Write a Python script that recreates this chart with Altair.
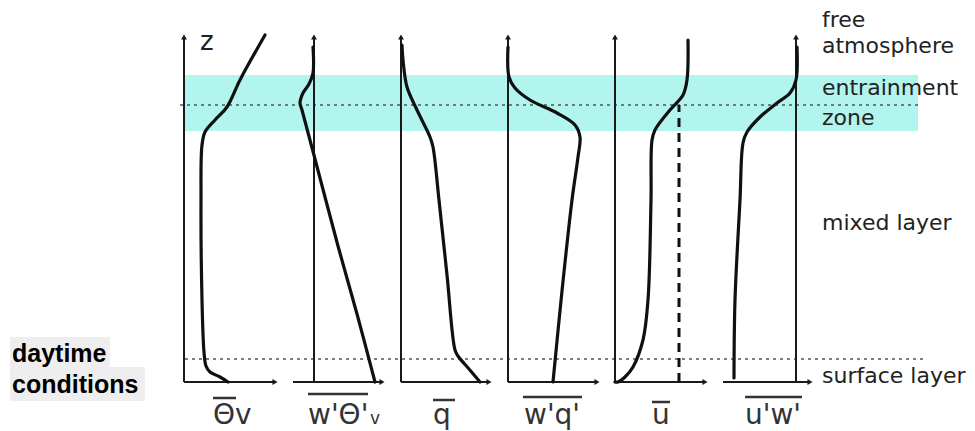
import altair as alt
import pandas as pd

# ---------------- data (diagram units: x across, z = height above surface) ----------------
panel_names = ["theta_v", "w_theta_v", "q", "w_q", "u", "u_w"]
axis_x = [184, 314, 401, 508, 615, 796]          # vertical axis of each panel
haxis_x0 = [184, 293, 401, 508, 615, 723]        # horizontal axis start
haxis_x1 = [278, 385, 492, 600, 708, 813]        # horizontal axis end (arrow)
axis_top = 348

# profile shapes: offset from the panel's vertical axis (dx) and height (z)
theta_dx = [44, 36, 26, 22, 20, 18, 17, 18, 21, 31, 43, 56, 81]
theta_z = [0, 5, 10, 16, 30, 82, 182, 237, 250, 262, 275, 302, 347]

wtheta_dx = [-1, -1, -5, -11, -14, -12, 6, 24, 43, 61]
wtheta_z = [335, 309, 298, 289, 279, 272, 204, 136, 68, 0]

q_dx = [1, 2, 6, 16, 29, 32, 38, 46, 54, 57, 68, 79]
q_z = [337, 322, 295, 272, 245, 235, 182, 107, 32, 26, 13, 0]

wq_dx = [0, 1, 7, 22, 49, 67, 72, 70, 64, 54, 45]
wq_z = [335, 305, 294, 282, 269, 257, 245, 225, 182, 91, 0]

u_dx = [73, 72, 68, 55, 40, 37, 36, 33, 28, 18, 10, 3, 0]
u_z = [342, 302, 287, 272, 252, 242, 182, 82, 42, 15, 5, 0, 0]

uw_dx = [1, 0, -6, -19, -36, -49, -53, -56, -61, -62]
uw_z = [335, 302, 289, 279, 265, 250, 239, 182, 82, 4]

profile_dx = [theta_dx, wtheta_dx, q_dx, wq_dx, u_dx, uw_dx]
profile_z = [theta_z, wtheta_z, q_z, wq_z, u_z, uw_z]

# geostrophic wind (dashed) in the u panel
ug_dx = 64
ug_z = [0, 277]

# layers
ez_bottom, ez_top = 251, 307
band_x = [183, 918]
inversion_z = 277
surface_z = 23
dot_upper_x = [180, 920]
dot_lower_x = [185, 925]

# bottom variable labels
var_text = ["Θv", "w'Θ'", "q", "w'q'", "u", "u'w'"]
var_x = [213, 308, 433, 524, 652, 745]
over_x0 = [213, 308, 433, 523, 652, 745]
over_x1 = [236, 368, 455, 582, 670, 802]
over_z = [-16, -12, -18, -15, -20, -15]
sub_text = ["v"]
sub_x = [370]

# right-hand layer names
layer_text = ["free", "atmosphere", "entrainment", "zone", "mixed layer", "surface layer"]
layer_z = [355, 329, 287, 257, 152, -1]
layer_x = 822

cond_text = ["daytime", "conditions"]
cond_z = [20, -11]

# ---------------- tables ----------------
rows = []
for name, x0, dxs, zs in zip(panel_names, axis_x, profile_dx, profile_z):
    for k, (dx, z) in enumerate(zip(dxs, zs)):
        rows.append({"curve": name, "x": x0 + dx, "z": z, "k": k})
curves = pd.DataFrame(rows)

axes_rows = []
for x0, h0, h1 in zip(axis_x, haxis_x0, haxis_x1):
    axes_rows.append({"x": x0, "x2": x0, "z": 0, "z2": axis_top - 4})
    axes_rows.append({"x": h0, "x2": h1 - 4, "z": 0, "z2": 0})
axes_df = pd.DataFrame(axes_rows)

up_heads = pd.DataFrame({"x": axis_x, "z": [axis_top - 3] * len(axis_x)})
right_heads = pd.DataFrame({"x": [h - 3 for h in haxis_x1], "z": [0] * len(haxis_x1)})

band_df = pd.DataFrame({"x": [band_x[0]], "x2": [band_x[1]], "z": [ez_bottom], "z2": [ez_top]})
dots_df = pd.DataFrame({
    "x": [dot_upper_x[0], dot_lower_x[0]],
    "x2": [dot_upper_x[1], dot_lower_x[1]],
    "z": [inversion_z, surface_z],
})
ug_df = pd.DataFrame({"x": [axis_x[4] + ug_dx] * 2, "z": ug_z, "k": [0, 1]})

over_df = pd.DataFrame({"x": over_x0, "x2": over_x1, "z": over_z})
var_df = pd.DataFrame({"t": var_text, "x": var_x, "z": [-42] * len(var_text)})
sub_df = pd.DataFrame({"t": sub_text, "x": sub_x, "z": [-42]})
layer_df = pd.DataFrame({"t": layer_text, "x": [layer_x] * len(layer_text), "z": layer_z})
z_df = pd.DataFrame({"t": ["z"], "x": [200], "z": [332]})

cond_df = pd.DataFrame({"t": cond_text, "x": [12, 12], "z": cond_z})
cond_bg = pd.DataFrame({"x": [10, 10], "x2": [110, 145], "z": [15, -19], "z2": [45, 15]})

# ---------------- chart ----------------
W, H = 959, 423
xs = alt.Scale(domain=[8, 8 + W], nice=False, zero=False)
zs = alt.Scale(domain=[374 - H, 374], nice=False, zero=False)
X = alt.X("x:Q", scale=xs, axis=None)
X2 = alt.X2("x2:Q")
Y = alt.Y("z:Q", scale=zs, axis=None)
Y2 = alt.Y2("z2:Q")

band = alt.Chart(band_df).mark_rect(color="#b2f5ee").encode(x=X, x2=X2, y=Y, y2=Y2)
dots = alt.Chart(dots_df).mark_rule(color="#4a5a58", strokeWidth=1.6, strokeDash=[3, 4]).encode(x=X, x2=X2, y=Y)
axes = alt.Chart(axes_df).mark_rule(color="#1a1a1a", strokeWidth=2).encode(x=X, x2=X2, y=Y, y2=Y2)
uph = alt.Chart(up_heads).mark_point(shape="triangle-up", filled=True, size=35, color="#1a1a1a", opacity=1).encode(x=X, y=Y)
rth = alt.Chart(right_heads).mark_point(shape="triangle-right", filled=True, size=35, color="#1a1a1a", opacity=1).encode(x=X, y=Y)
lines = alt.Chart(curves).mark_line(interpolate="catmull-rom", strokeWidth=3.2, color="#0d1210",
                                    strokeCap="round", strokeJoin="round").encode(
    x=X, y=Y, detail="curve:N", order="k:Q")
ug = alt.Chart(ug_df).mark_line(strokeWidth=3, color="#0d1210", strokeDash=[9, 6]).encode(x=X, y=Y, order="k:Q")

over = alt.Chart(over_df).mark_rule(color="#333", strokeWidth=2.5).encode(x=X, x2=X2, y=Y)
var = alt.Chart(var_df).mark_text(align="left", baseline="alphabetic", font="DejaVu Sans",
                                  fontSize=28, color="#333").encode(x=X, y=Y, text="t:N")
sub = alt.Chart(sub_df).mark_text(align="left", baseline="alphabetic", font="DejaVu Sans",
                                  fontSize=17, color="#333").encode(x=X, y=Y, text="t:N")
lay = alt.Chart(layer_df).mark_text(align="left", baseline="alphabetic", font="DejaVu Sans",
                                    fontSize=22, color="#222").encode(x=X, y=Y, text="t:N")
zl = alt.Chart(z_df).mark_text(align="left", baseline="alphabetic", font="DejaVu Sans",
                               fontSize=26, color="#222").encode(x=X, y=Y, text="t:N")
cbg = alt.Chart(cond_bg).mark_rect(color="#eeeeee").encode(x=X, x2=X2, y=Y, y2=Y2)
ctx = alt.Chart(cond_df).mark_text(align="left", baseline="alphabetic", font="Liberation Sans",
                                   fontWeight="bold", fontSize=25, color="#000").encode(x=X, y=Y, text="t:N")

chart = alt.layer(band, dots, cbg, ctx, axes, uph, rth, ug, lines, over, var, sub, lay, zl).properties(
    width=W, height=H, padding=0, autosize=alt.AutoSizeParams(type="none")
).configure_view(stroke=None)

chart.save("out.html", embed_options={"renderer": "svg", "actions": False})
